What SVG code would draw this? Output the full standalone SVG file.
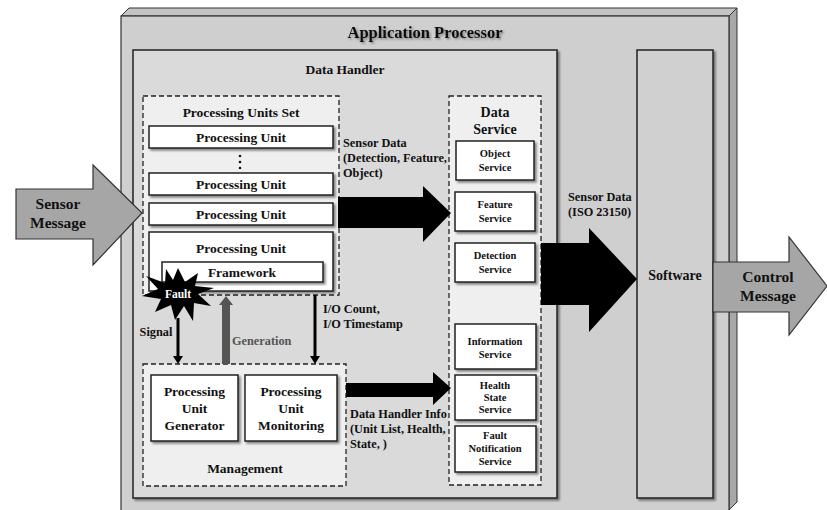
<svg xmlns="http://www.w3.org/2000/svg" width="827" height="510" viewBox="0 0 827 510">
<defs>
<filter id="sh" x="-10%" y="-10%" width="130%" height="130%">
<feDropShadow dx="2" dy="2" stdDeviation="1.2" flood-color="#000" flood-opacity="0.45"/>
</filter>
<filter id="tsh" x="-10%" y="-30%" width="130%" height="180%">
<feDropShadow dx="1.5" dy="1.5" stdDeviation="1" flood-color="#000" flood-opacity="0.4"/>
</filter>
</defs>
<style>
text{font-family:'Liberation Serif','DejaVu Serif',serif;font-weight:700;fill:#111;text-anchor:middle}
.box{fill:#fff;stroke:#222;stroke-width:1.5}
.dash{fill:#efefef;stroke:#222;stroke-width:1.3;stroke-dasharray:5,3}
.t13{font-size:13.5px}
.t12{font-size:13.5px}
.t10{font-size:10.5px}
.t11{font-size:12.3px;text-anchor:start}
.t15{font-size:15.5px}
</style>
<rect width="827" height="510" fill="#fff"/>

<g id="application-processor">
<polygon points="121,16 129,8 737,8 729,16" fill="#c4c4c4" stroke="#333" stroke-width="1"/>
<polygon points="729,16 737,8 737,502 729,510" fill="#a8a8a8" stroke="#333" stroke-width="1"/>
<rect x="121" y="16" width="608" height="500" fill="#cfcfcf" stroke="#333" stroke-width="1.2"/>
<text x="425" y="38" style="font-size:16.5px" filter="url(#tsh)">Application Processor</text>
</g>

<g id="data-handler">
<rect x="133" y="50" width="424" height="448" fill="#dadada" stroke="#222" stroke-width="1.5" filter="url(#sh)"/>
<text x="345" y="74" class="t13">Data Handler</text>
</g>

<g id="software">
<rect x="637" y="50" width="76" height="448" fill="#d0d0d0" stroke="#222" stroke-width="1.5" filter="url(#sh)"/>
<text x="675" y="280" style="font-size:14px">Software</text>
</g>

<g id="processing-units-set">
<rect x="143" y="96" width="196" height="199" class="dash"/>
<text x="241" y="117" class="t13">Processing Units Set</text>
</g>
<g id="processing-unit-1">
<rect x="149" y="126" width="184" height="22" class="box" filter="url(#sh)"/>
<text x="241" y="142" class="t12">Processing Unit</text>
</g>
<g id="dots">
<circle cx="240" cy="156" r="1.3" fill="#111"/>
<circle cx="240" cy="162" r="1.3" fill="#111"/>
<circle cx="240" cy="168" r="1.3" fill="#111"/>
</g>
<g id="processing-unit-2">
<rect x="149" y="173" width="184" height="22" class="box" filter="url(#sh)"/>
<text x="241" y="189" class="t12">Processing Unit</text>
</g>
<g id="processing-unit-3">
<rect x="149" y="203" width="184" height="22" class="box" filter="url(#sh)"/>
<text x="241" y="219" class="t12">Processing Unit</text>
</g>
<g id="processing-unit-4">
<rect x="149" y="232" width="184" height="59" class="box" filter="url(#sh)"/>
<text x="241" y="253" class="t12">Processing Unit</text>
</g>
<g id="framework">
<rect x="162" y="262" width="161" height="20" class="box" filter="url(#sh)"/>
<text x="242" y="277" class="t12">Framework</text>
</g>
<g id="fault">
<polygon points="178,268 185,282 198,273 195,286 214,288 198,294 211,306 194,303 193,321 184,306 175,320 171,305 155,312 161,299 142,296 158,289 146,276 165,283 166,269 173,280" fill="#000"/>
<text x="178" y="298" style="font-size:11.5px;fill:#fff">Fault</text>
</g>

<g id="management">
<rect x="143" y="364" width="203" height="122" class="dash"/>
<text x="245" y="473" class="t13">Management</text>
</g>
<g id="pu-generator">
<rect x="151" y="375" width="87" height="66" class="box" filter="url(#sh)"/>
<text x="194.5" y="396" class="t13">Processing</text>
<text x="194.5" y="413" class="t13">Unit</text>
<text x="194.5" y="430" class="t13">Generator</text>
</g>
<g id="pu-monitoring">
<rect x="245" y="375" width="92" height="66" class="box" filter="url(#sh)"/>
<text x="291" y="396" class="t13">Processing</text>
<text x="291" y="413" class="t13">Unit</text>
<text x="291" y="430" class="t13">Monitoring</text>
</g>

<g id="data-service">
<rect x="449" y="96" width="92" height="389" class="dash"/>
<text x="495" y="117" style="font-size:14px">Data</text>
<text x="495" y="134" style="font-size:14px">Service</text>
</g>
<g id="object-service">
<rect x="456" y="141" width="78" height="39" class="box" filter="url(#sh)"/>
<text x="495" y="157" class="t10">Object</text>
<text x="495" y="171" class="t10">Service</text>
</g>
<g id="feature-service">
<rect x="455" y="192" width="80" height="39" class="box" filter="url(#sh)"/>
<text x="495" y="208" class="t10">Feature</text>
<text x="495" y="222" class="t10">Service</text>
</g>
<g id="detection-service">
<rect x="455" y="243" width="80" height="39" class="box" filter="url(#sh)"/>
<text x="495" y="259" class="t10">Detection</text>
<text x="495" y="273" class="t10">Service</text>
</g>
<g id="information-service">
<rect x="455" y="324" width="81" height="45" class="box" filter="url(#sh)"/>
<text x="495" y="345" class="t10">Information</text>
<text x="495" y="358" class="t10">Service</text>
</g>
<g id="health-state-service">
<rect x="455" y="375" width="81" height="45" class="box" filter="url(#sh)"/>
<text x="495" y="389" class="t10">Health</text>
<text x="495" y="401" class="t10">State</text>
<text x="495" y="413" class="t10">Service</text>
</g>
<g id="fault-notification-service">
<rect x="455" y="426" width="81" height="46" class="box" filter="url(#sh)"/>
<text x="495" y="439" class="t10">Fault</text>
<text x="495" y="452" class="t10">Notification</text>
<text x="495" y="465" class="t10">Service</text>
</g>

<g id="connectors">
<polygon points="16,189 93,189 93,165 142,213 93,265 93,239 16,239" fill="#a6a6a6" stroke="#333" stroke-width="1.2"/>
<text x="58" y="209" class="t15">Sensor</text>
<text x="58" y="228" class="t15">Message</text>

<polygon points="713,262 789,262 789,237 827,286 789,335 789,312 713,312" fill="#a6a6a6" stroke="#333" stroke-width="1.2"/>
<text x="768" y="282" class="t15">Control</text>
<text x="768" y="301" class="t15">Message</text>

<polygon points="338,197 423,197 423,186 451,213 423,242 423,228 338,228" fill="#000"/>
<text x="343" y="147" class="t11">Sensor Data</text>
<text x="343" y="162" class="t11">(Detection, Feature,</text>
<text x="343" y="177" class="t11">Object)</text>

<polygon points="541,243 589,243 589,228 637,279 589,332 589,305 541,305" fill="#000"/>
<text x="568" y="201" class="t11">Sensor Data</text>
<text x="568" y="216" class="t11">(ISO 23150)</text>

<polygon points="346,383 433,383 433,372 451,388 433,405 433,397 346,397" fill="#000"/>
<text x="350" y="418" class="t11">Data Handler Info</text>
<text x="350" y="433" class="t11">(Unit List, Health,</text>
<text x="350" y="448" class="t11">State, )</text>

<line x1="178" y1="318" x2="178" y2="357" stroke="#000" stroke-width="3"/>
<polygon points="173,356 183,356 178,364" fill="#000"/>
<text x="156" y="336" class="t11" style="text-anchor:middle">Signal</text>

<rect x="222" y="304" width="8" height="60" fill="#555"/>
<polygon points="219,305 233,305 226,296" fill="#555"/>
<text x="232" y="345" class="t11" style="fill:#555">Generation</text>

<line x1="315" y1="295" x2="315" y2="357" stroke="#000" stroke-width="3"/>
<polygon points="310,356 320,356 315,364" fill="#000"/>
<text x="323" y="313" class="t11">I/O Count,</text>
<text x="323" y="328" class="t11">I/O Timestamp</text>
</g>
</svg>
